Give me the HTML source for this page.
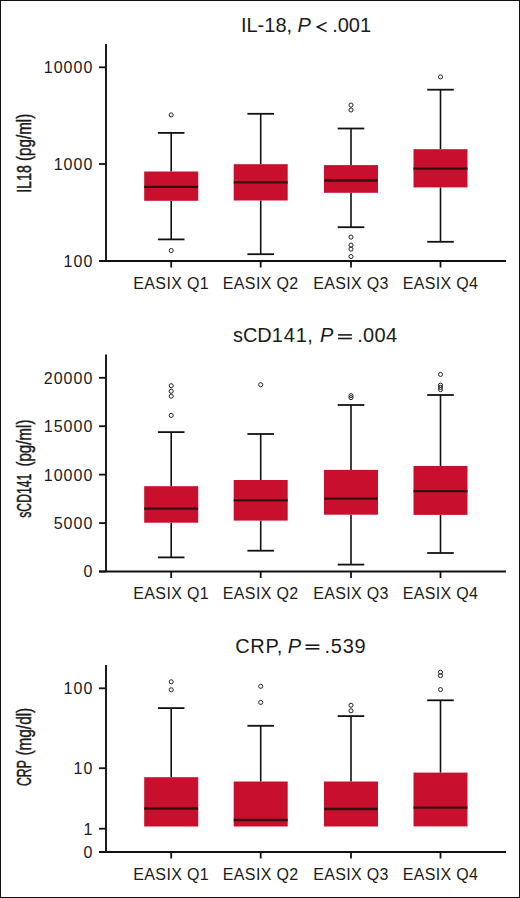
<!DOCTYPE html>
<html><head><meta charset="utf-8"><style>
html,body{margin:0;padding:0;background:#fff;}
body{width:520px;height:898px;overflow:hidden;}
.frame{position:absolute;left:0;top:0;width:520px;height:898px;box-sizing:border-box;border:1px solid #111;}
svg{position:absolute;left:0;top:0;}
text{font-family:"Liberation Sans",sans-serif;fill:#1a1a1a;}
.title{font-size:20px;}
.ylab{font-size:19.5px;stroke:#1a1a1a;stroke-width:0.45;}
.tl{font-size:16px;letter-spacing:1px;}
.xl{font-size:16px;letter-spacing:0.35px;}
.wh{stroke:#111;stroke-width:1.6;}
.cap{stroke:#111;stroke-width:1.8;}
.ax{stroke:#111;stroke-width:1.9;}
.tk{stroke:#111;stroke-width:1.8;}
.bx{fill:#C8102E;}
.med{stroke:#36100f;stroke-width:2.3;}
.eq{stroke:#1a1a1a;stroke-width:1.6;}
.o{fill:none;stroke:#222;stroke-width:1;}
</style></head><body>
<div class="frame"></div>
<svg width="520" height="898" viewBox="0 0 520 898">
<text class="title" x="240.95" y="32" letter-spacing="0">IL-18,</text>
<text class="title" font-style="italic" x="297.4" y="32">P</text>
<polyline class="eq" fill="none" points="326.6,22.4 317.3,27 326.6,31.6"/>
<text class="title" x="332.2" y="32" letter-spacing="0">.001</text>
<text class="ylab" transform="translate(31.1 192.86) rotate(-90) scale(0.7314 1)">IL18</text>
<text class="ylab" transform="translate(31.1 160.98) rotate(-90) scale(0.7780 1)">(pg/ml)</text>
<line class="wh" x1="171.2" x2="171.2" y1="132.9" y2="171.5"/>
<line class="cap" x1="157.9" x2="184.5" y1="132.9" y2="132.9"/>
<line class="wh" x1="171.2" x2="171.2" y1="200.8" y2="239.4"/>
<line class="cap" x1="157.9" x2="184.5" y1="239.4" y2="239.4"/>
<rect class="bx" x="144.2" y="171.5" width="54" height="29.3"/>
<line class="med" x1="144.2" x2="198.2" y1="186.9" y2="186.9"/>
<circle class="o" cx="171.2" cy="114.9" r="2.05"/>
<circle class="o" cx="171.2" cy="250.5" r="2.05"/>
<line class="wh" x1="260.7" x2="260.7" y1="113.8" y2="164.2"/>
<line class="cap" x1="247.4" x2="274" y1="113.8" y2="113.8"/>
<line class="wh" x1="260.7" x2="260.7" y1="200.5" y2="254.2"/>
<line class="cap" x1="247.4" x2="274" y1="254.2" y2="254.2"/>
<rect class="bx" x="233.7" y="164.2" width="54" height="36.3"/>
<line class="med" x1="233.7" x2="287.7" y1="182.3" y2="182.3"/>
<line class="wh" x1="351" x2="351" y1="128.5" y2="165.1"/>
<line class="cap" x1="337.7" x2="364.3" y1="128.5" y2="128.5"/>
<line class="wh" x1="351" x2="351" y1="192.8" y2="227.2"/>
<line class="cap" x1="337.7" x2="364.3" y1="227.2" y2="227.2"/>
<rect class="bx" x="324" y="165.1" width="54" height="27.7"/>
<line class="med" x1="324" x2="378" y1="180.5" y2="180.5"/>
<circle class="o" cx="351" cy="105.1" r="2.05"/>
<circle class="o" cx="351" cy="110" r="2.05"/>
<circle class="o" cx="351" cy="237.1" r="2.05"/>
<circle class="o" cx="351" cy="245.1" r="2.05"/>
<circle class="o" cx="351" cy="249.1" r="2.05"/>
<circle class="o" cx="351" cy="256.5" r="2.05"/>
<line class="wh" x1="440.5" x2="440.5" y1="89.7" y2="149.2"/>
<line class="cap" x1="427.2" x2="453.8" y1="89.7" y2="89.7"/>
<line class="wh" x1="440.5" x2="440.5" y1="187.4" y2="241.8"/>
<line class="cap" x1="427.2" x2="453.8" y1="241.8" y2="241.8"/>
<rect class="bx" x="413.5" y="149.2" width="54" height="38.2"/>
<line class="med" x1="413.5" x2="467.5" y1="168.6" y2="168.6"/>
<circle class="o" cx="440.5" cy="76.9" r="2.05"/>
<line class="ax" x1="106" x2="106" y1="44" y2="261"/>
<line class="ax" x1="99" x2="506" y1="261" y2="261"/>
<line class="tk" x1="99" x2="106" y1="67.3" y2="67.3"/>
<text class="tl" x="93.3" y="73.2" text-anchor="end">10000</text>
<line class="tk" x1="99" x2="106" y1="164" y2="164"/>
<text class="tl" x="93.3" y="169.9" text-anchor="end">1000</text>
<line class="tk" x1="99" x2="106" y1="261" y2="261"/>
<text class="tl" x="93.3" y="266.9" text-anchor="end">100</text>
<line class="tk" x1="171.2" x2="171.2" y1="261" y2="267.5"/>
<text class="xl" x="171.2" y="288.5" text-anchor="middle">EASIX Q1</text>
<line class="tk" x1="260.7" x2="260.7" y1="261" y2="267.5"/>
<text class="xl" x="260.7" y="288.5" text-anchor="middle">EASIX Q2</text>
<line class="tk" x1="351" x2="351" y1="261" y2="267.5"/>
<text class="xl" x="351" y="288.5" text-anchor="middle">EASIX Q3</text>
<line class="tk" x1="440.5" x2="440.5" y1="261" y2="267.5"/>
<text class="xl" x="440.5" y="288.5" text-anchor="middle">EASIX Q4</text>
<text class="title" x="232.9" y="342.2" letter-spacing="0">sCD1<tspan dx="0.8">4</tspan><tspan dx="0.8">1</tspan><tspan dx="0.6">,</tspan></text>
<text class="title" font-style="italic" x="320.1" y="342.2">P</text>
<line class="eq" x1="338" x2="351.9" y1="334.9" y2="334.9"/>
<line class="eq" x1="338" x2="351.9" y1="338.5" y2="338.5"/>
<text class="title" x="357.2" y="342.2" letter-spacing="0.3">.004</text>
<text class="ylab" transform="translate(31.1 517.7) rotate(-90) scale(0.6229 1)">sCD141</text>
<text class="ylab" transform="translate(31.1 466.58) rotate(-90) scale(0.7763 1)">(pg/ml)</text>
<line class="wh" x1="171.2" x2="171.2" y1="432.1" y2="486.2"/>
<line class="cap" x1="157.9" x2="184.5" y1="432.1" y2="432.1"/>
<line class="wh" x1="171.2" x2="171.2" y1="522.7" y2="557.4"/>
<line class="cap" x1="157.9" x2="184.5" y1="557.4" y2="557.4"/>
<rect class="bx" x="144.2" y="486.2" width="54" height="36.5"/>
<line class="med" x1="144.2" x2="198.2" y1="508.6" y2="508.6"/>
<circle class="o" cx="171.2" cy="385.7" r="2.05"/>
<circle class="o" cx="171.2" cy="391.2" r="2.05"/>
<circle class="o" cx="171.2" cy="396.2" r="2.05"/>
<circle class="o" cx="171.2" cy="415.4" r="2.05"/>
<line class="wh" x1="260.7" x2="260.7" y1="434" y2="480"/>
<line class="cap" x1="247.4" x2="274" y1="434" y2="434"/>
<line class="wh" x1="260.7" x2="260.7" y1="520.6" y2="550.7"/>
<line class="cap" x1="247.4" x2="274" y1="550.7" y2="550.7"/>
<rect class="bx" x="233.7" y="480" width="54" height="40.6"/>
<line class="med" x1="233.7" x2="287.7" y1="500.4" y2="500.4"/>
<circle class="o" cx="260.7" cy="384.7" r="2.05"/>
<line class="wh" x1="351" x2="351" y1="405" y2="469.9"/>
<line class="cap" x1="337.7" x2="364.3" y1="405" y2="405"/>
<line class="wh" x1="351" x2="351" y1="514.7" y2="564.6"/>
<line class="cap" x1="337.7" x2="364.3" y1="564.6" y2="564.6"/>
<rect class="bx" x="324" y="469.9" width="54" height="44.8"/>
<line class="med" x1="324" x2="378" y1="498.7" y2="498.7"/>
<circle class="o" cx="351" cy="395.6" r="2.05"/>
<circle class="o" cx="351" cy="397.6" r="2.05"/>
<line class="wh" x1="440.5" x2="440.5" y1="395" y2="466"/>
<line class="cap" x1="427.2" x2="453.8" y1="395" y2="395"/>
<line class="wh" x1="440.5" x2="440.5" y1="514.9" y2="553"/>
<line class="cap" x1="427.2" x2="453.8" y1="553" y2="553"/>
<rect class="bx" x="413.5" y="466" width="54" height="48.9"/>
<line class="med" x1="413.5" x2="467.5" y1="491.1" y2="491.1"/>
<circle class="o" cx="440.5" cy="374.4" r="2.05"/>
<circle class="o" cx="440.5" cy="385.2" r="2.05"/>
<circle class="o" cx="440.5" cy="387.4" r="2.05"/>
<circle class="o" cx="440.5" cy="389.6" r="2.05"/>
<line class="ax" x1="106" x2="106" y1="354.6" y2="571.5"/>
<line class="ax" x1="99" x2="506" y1="571.5" y2="571.5"/>
<line class="tk" x1="99" x2="106" y1="377.8" y2="377.8"/>
<text class="tl" x="93.3" y="383.7" text-anchor="end">20000</text>
<line class="tk" x1="99" x2="106" y1="426.2" y2="426.2"/>
<text class="tl" x="93.3" y="432.1" text-anchor="end">15000</text>
<line class="tk" x1="99" x2="106" y1="474.6" y2="474.6"/>
<text class="tl" x="93.3" y="480.5" text-anchor="end">10000</text>
<line class="tk" x1="99" x2="106" y1="523.1" y2="523.1"/>
<text class="tl" x="93.3" y="529" text-anchor="end">5000</text>
<line class="tk" x1="99" x2="106" y1="571.5" y2="571.5"/>
<text class="tl" x="93.3" y="577.4" text-anchor="end">0</text>
<line class="tk" x1="171.2" x2="171.2" y1="571.5" y2="578"/>
<text class="xl" x="171.2" y="599" text-anchor="middle">EASIX Q1</text>
<line class="tk" x1="260.7" x2="260.7" y1="571.5" y2="578"/>
<text class="xl" x="260.7" y="599" text-anchor="middle">EASIX Q2</text>
<line class="tk" x1="351" x2="351" y1="571.5" y2="578"/>
<text class="xl" x="351" y="599" text-anchor="middle">EASIX Q3</text>
<line class="tk" x1="440.5" x2="440.5" y1="571.5" y2="578"/>
<text class="xl" x="440.5" y="599" text-anchor="middle">EASIX Q4</text>
<text class="title" x="235.3" y="652.5" letter-spacing="0.6">CRP,</text>
<text class="title" font-style="italic" x="287.7" y="652.5">P</text>
<line class="eq" x1="305.6" x2="319.4" y1="645.2" y2="645.2"/>
<line class="eq" x1="305.6" x2="319.4" y1="648.8" y2="648.8"/>
<text class="title" x="324.6" y="652.5" letter-spacing="0.7">.539</text>
<text class="ylab" transform="translate(31.1 786.03) rotate(-90) scale(0.6300 1)">CRP</text>
<text class="ylab" transform="translate(31.1 755.59) rotate(-90) scale(0.7881 1)">(mg/dl)</text>
<line class="wh" x1="171.2" x2="171.2" y1="708.1" y2="777.2"/>
<line class="cap" x1="157.9" x2="184.5" y1="708.1" y2="708.1"/>
<rect class="bx" x="144.2" y="777.2" width="54" height="49.3"/>
<line class="med" x1="144.2" x2="198.2" y1="808.5" y2="808.5"/>
<circle class="o" cx="171.2" cy="681.8" r="2.05"/>
<circle class="o" cx="171.2" cy="689.8" r="2.05"/>
<line class="wh" x1="260.7" x2="260.7" y1="725.8" y2="781.5"/>
<line class="cap" x1="247.4" x2="274" y1="725.8" y2="725.8"/>
<rect class="bx" x="233.7" y="781.5" width="54" height="45"/>
<line class="med" x1="233.7" x2="287.7" y1="820" y2="820"/>
<circle class="o" cx="260.7" cy="686.3" r="2.05"/>
<circle class="o" cx="260.7" cy="702.4" r="2.05"/>
<line class="wh" x1="351" x2="351" y1="716.1" y2="781.5"/>
<line class="cap" x1="337.7" x2="364.3" y1="716.1" y2="716.1"/>
<rect class="bx" x="324" y="781.5" width="54" height="45"/>
<line class="med" x1="324" x2="378" y1="809" y2="809"/>
<circle class="o" cx="351" cy="705.3" r="2.05"/>
<circle class="o" cx="351" cy="710.8" r="2.05"/>
<line class="wh" x1="440.5" x2="440.5" y1="700.3" y2="772.6"/>
<line class="cap" x1="427.2" x2="453.8" y1="700.3" y2="700.3"/>
<rect class="bx" x="413.5" y="772.6" width="54" height="53.8"/>
<line class="med" x1="413.5" x2="467.5" y1="807.7" y2="807.7"/>
<circle class="o" cx="440.5" cy="672.2" r="2.05"/>
<circle class="o" cx="440.5" cy="675.6" r="2.05"/>
<circle class="o" cx="440.5" cy="689.6" r="2.05"/>
<line class="ax" x1="106" x2="106" y1="665" y2="852"/>
<line class="ax" x1="99" x2="506" y1="852" y2="852"/>
<line class="tk" x1="99" x2="106" y1="688.3" y2="688.3"/>
<text class="tl" x="93.3" y="694.2" text-anchor="end">100</text>
<line class="tk" x1="99" x2="106" y1="768.2" y2="768.2"/>
<text class="tl" x="93.3" y="774.1" text-anchor="end">10</text>
<line class="tk" x1="99" x2="106" y1="828.7" y2="828.7"/>
<text class="tl" x="93.3" y="834.6" text-anchor="end">1</text>
<line class="tk" x1="99" x2="106" y1="852" y2="852"/>
<text class="tl" x="93.3" y="857.9" text-anchor="end">0</text>
<line class="tk" x1="171.2" x2="171.2" y1="852" y2="858.5"/>
<text class="xl" x="171.2" y="879.5" text-anchor="middle">EASIX Q1</text>
<line class="tk" x1="260.7" x2="260.7" y1="852" y2="858.5"/>
<text class="xl" x="260.7" y="879.5" text-anchor="middle">EASIX Q2</text>
<line class="tk" x1="351" x2="351" y1="852" y2="858.5"/>
<text class="xl" x="351" y="879.5" text-anchor="middle">EASIX Q3</text>
<line class="tk" x1="440.5" x2="440.5" y1="852" y2="858.5"/>
<text class="xl" x="440.5" y="879.5" text-anchor="middle">EASIX Q4</text>
</svg>
</body></html>
